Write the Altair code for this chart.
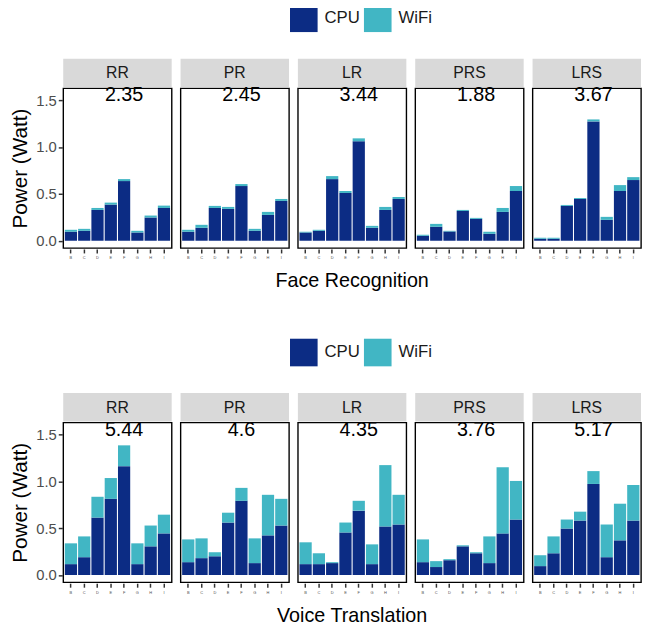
import altair as alt
import pandas as pd

panels = ["RR", "PR", "LR", "PRS", "LRS"]
devices = ["B", "C", "D", "E", "F", "G", "H", "I"]
components = ["CPU", "WiFi"]
colors = ["#0c2c84", "#41b6c4"]

face_cpu = {
    "RR":  [0.096, 0.106, 0.329, 0.386, 0.637, 0.088, 0.248, 0.350],
    "PR":  [0.096, 0.138, 0.350, 0.340, 0.584, 0.106, 0.276, 0.425],
    "LR":  [0.088, 0.106, 0.658, 0.510, 1.062, 0.138, 0.329, 0.446],
    "PRS": [0.053, 0.149, 0.099, 0.318, 0.234, 0.074, 0.308, 0.531],
    "LRS": [0.021, 0.021, 0.372, 0.446, 1.274, 0.223, 0.531, 0.648],
}
face_wifi = {
    "RR":  [0.021, 0.021, 0.021, 0.021, 0.021, 0.018, 0.021, 0.025],
    "PR":  [0.021, 0.032, 0.022, 0.021, 0.021, 0.021, 0.032, 0.021],
    "LR":  [0.008, 0.011, 0.032, 0.021, 0.031, 0.021, 0.032, 0.021],
    "PRS": [0.011, 0.031, 0.007, 0.011, 0.010, 0.022, 0.042, 0.053],
    "LRS": [0.011, 0.011, 0.010, 0.010, 0.021, 0.032, 0.063, 0.031],
}
face_labels = ["2.35", "2.45", "3.44", "1.88", "3.67"]

voice_cpu = {
    "RR":  [0.116, 0.190, 0.613, 0.813, 1.162, 0.116, 0.306, 0.444],
    "PR":  [0.137, 0.180, 0.200, 0.560, 0.792, 0.127, 0.423, 0.528],
    "LR":  [0.116, 0.116, 0.127, 0.454, 0.687, 0.116, 0.518, 0.539],
    "PRS": [0.137, 0.085, 0.158, 0.306, 0.232, 0.127, 0.444, 0.592],
    "LRS": [0.095, 0.232, 0.496, 0.581, 0.972, 0.190, 0.370, 0.581],
}
voice_wifi = {
    "RR":  [0.222, 0.222, 0.222, 0.222, 0.222, 0.222, 0.222, 0.200],
    "PR":  [0.243, 0.211, 0.043, 0.105, 0.138, 0.264, 0.433, 0.285],
    "LR":  [0.233, 0.116, 0.010, 0.106, 0.105, 0.211, 0.655, 0.317],
    "PRS": [0.243, 0.063, 0.011, 0.011, 0.011, 0.285, 0.707, 0.412],
    "LRS": [0.116, 0.180, 0.096, 0.095, 0.137, 0.349, 0.391, 0.380],
}
voice_labels = ["5.44", "4.6", "4.35", "3.76", "5.17"]

W = 110
H = 162
FONT = "Liberation Sans"


def build_df(cpu, wifi, labels):
    rows = []
    for p, lab in zip(panels, labels):
        for i, d in enumerate(devices):
            rows.append(dict(panel=p, device=d, component="CPU", ord=0, value=cpu[p][i], label=lab))
            rows.append(dict(panel=p, device=d, component="WiFi", ord=1, value=wifi[p][i], label=lab))
    return pd.DataFrame(rows)


def make(df, title):
    base = alt.Chart(df)
    yscale = alt.Scale(domain=[-0.0775, 1.6275], nice=False, zero=False)
    xscale = alt.Scale(paddingInner=0.08, paddingOuter=0.12)
    xaxis = alt.Axis(title=None, labelAngle=0, labelFontSize=4, labelColor="#4d4d4d",
                     tickColor="#333333", tickSize=4, tickWidth=1.5, domain=False,
                     labelPadding=3)
    yaxis = alt.Axis(title="Power (Watt)", values=[0, 0.5, 1.0, 1.5], format=".1f",
                     labelFontSize=15, labelColor="#4d4d4d", labelFont=FONT,
                     tickColor="#333333", tickSize=4, tickWidth=1.5, domain=False, grid=False,
                     titleFontSize=21, titleFont=FONT, titleFontWeight="normal",
                     titleColor="#000000", titlePadding=5, labelPadding=2)
    bars = base.mark_bar().encode(
        x=alt.X("device:N", sort=devices, scale=xscale, axis=xaxis),
        y=alt.Y("value:Q", stack="zero", scale=yscale, axis=yaxis),
        color=alt.Color("component:N", scale=alt.Scale(domain=components, range=colors),
                        legend=alt.Legend(title=None, orient="none", direction="horizontal",
                                          legendX=230, legendY=-85, padding=0,
                                          symbolType="square", symbolSize=784,
                                          symbolStrokeWidth=0, labelFontSize=17,
                                          labelFont=FONT, labelColor="#1a1a1a",
                                          labelOffset=7, columnPadding=4)),
        order=alt.Order("ord:Q"),
    )
    text = base.transform_filter(
        (alt.datum.device == "F") & (alt.datum.component == "CPU")
    ).mark_text(fontSize=20, font=FONT, color="#000000").encode(
        x=alt.X("device:N", sort=devices, scale=xscale, axis=xaxis),
        y=alt.Y(datum=1.55, scale=yscale, axis=yaxis),
        text="label:N",
    )
    strip = base.transform_filter(
        (alt.datum.device == "B") & (alt.datum.component == "CPU")
    ).mark_rect(color="#d9d9d9").encode(
        x=alt.value(0), x2=alt.value(W), y=alt.value(-30), y2=alt.value(-1)
    )
    strip_text = base.transform_filter(
        (alt.datum.device == "B") & (alt.datum.component == "CPU")
    ).mark_text(fontSize=16, font=FONT, color="#1a1a1a").encode(
        x=alt.value(W / 2), y=alt.value(-15), text="panel:N"
    )
    layer = alt.layer(strip, strip_text, bars, text).properties(width=W, height=H)
    return layer.facet(
        column=alt.Column("panel:N", sort=panels, title=title,
                          header=alt.Header(labels=False, titleOrient="bottom",
                                            titleFontSize=20, titleFont=FONT,
                                            titleFontWeight="normal", titleColor="#000000",
                                            titlePadding=2)),
        spacing=7,
    )


df_face = build_df(face_cpu, face_wifi, face_labels)
df_voice = build_df(voice_cpu, voice_wifi, voice_labels)

chart = alt.vconcat(
    make(df_face, "Face Recognition"),
    make(df_voice, "Voice Translation"),
    spacing=48,
).resolve_scale(color="independent").properties(
    padding={"left": 2, "top": -8, "right": 0, "bottom": 0}
).configure(
    font=FONT
).configure_view(stroke="#000000", strokeWidth=1.4)

chart.save("out.html", embed_options={"renderer": "svg", "actions": False})
